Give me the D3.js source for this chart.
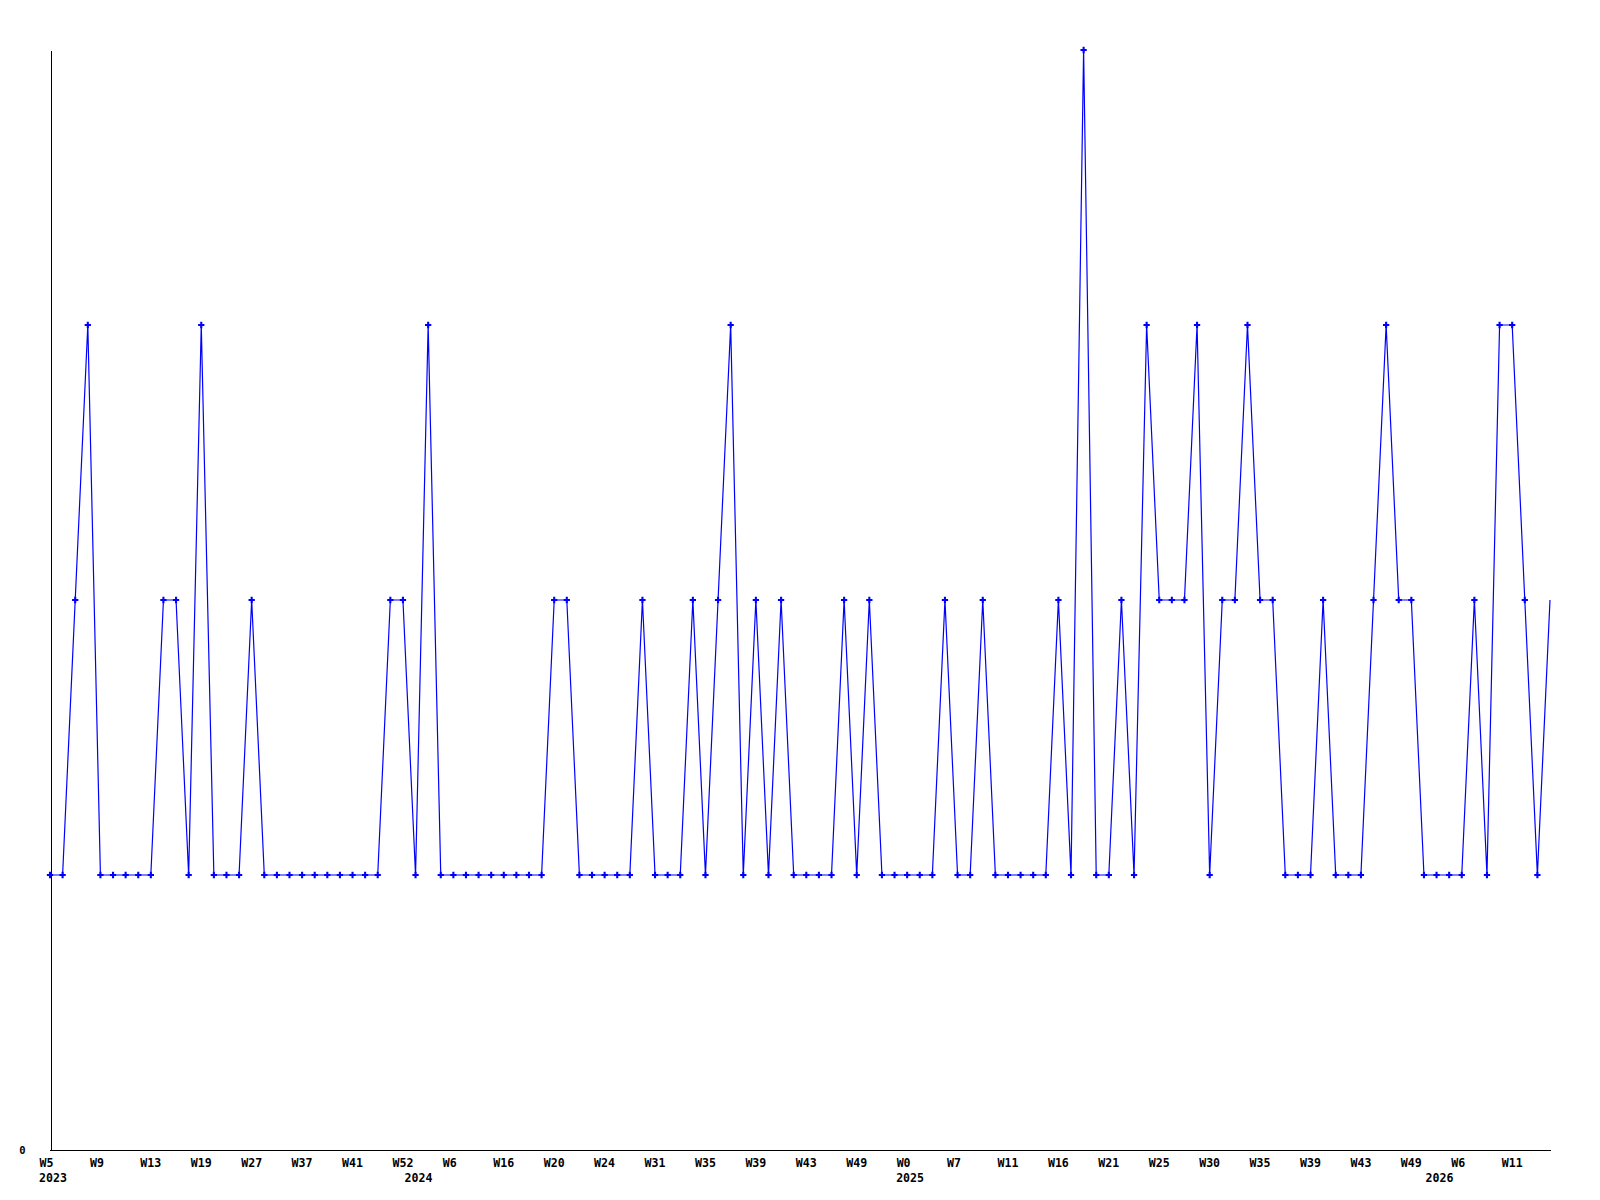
<!DOCTYPE html>
<html>
<head>
<meta charset="utf-8">
<script src="https://cdn.jsdelivr.net/npm/d3@7"></script>
<style>
  body { margin: 0; background: #fff; }
  text { font-family: "DejaVu Sans Mono", "Liberation Mono", monospace; font-weight: bold; fill: #000; }
</style>
</head>
<body>
<div id="chart"></div>
<script>
// weekly values, one per point (120 weeks)
const values = [
  1, 1, 2, 3, 1, 1, 1, 1, 1, 2,
  2, 1, 3, 1, 1, 1, 2, 1, 1, 1,
  1, 1, 1, 1, 1, 1, 1, 2, 2, 1,
  3, 1, 1, 1, 1, 1, 1, 1, 1, 1,
  2, 2, 1, 1, 1, 1, 1, 2, 1, 1,
  1, 2, 1, 2, 3, 1, 2, 1, 2, 1,
  1, 1, 1, 2, 1, 2, 1, 1, 1, 1,
  1, 2, 1, 1, 2, 1, 1, 1, 1, 1,
  2, 1, 4, 1, 1, 2, 1, 3, 2, 2,
  2, 3, 1, 2, 2, 3, 2, 2, 1, 1,
  1, 2, 1, 1, 1, 2, 3, 2, 2, 1,
  1, 1, 1, 2, 1, 3, 3, 2, 1, 2
];

// week labels shown on every 4th point
const labelStep = 4;
const weekLabels = ["W5", "W9", "W13", "W19", "W27", "W37", "W41", "W52", "W6", "W16",
  "W20", "W24", "W31", "W35", "W39", "W43", "W49", "W0", "W7", "W11",
  "W16", "W21", "W25", "W30", "W35", "W39", "W43", "W49", "W6", "W11"];

// first point of each year
const yearLabels = ["2023", "2024", "2025", "2026"];
const yearStart = [0, 29, 68, 110];

const yMax = 4;

const width = 1600, height = 1200;
const margin = { top: 50, right: 50, bottom: 50, left: 50 };

const svg = d3.select("#chart").append("svg")
  .attr("width", width)
  .attr("height", height);

svg.append("rect").attr("width", width).attr("height", height).attr("fill", "#fff");

const x = d3.scalePoint()
  .domain(d3.range(values.length))
  .range([margin.left, width - margin.right]);

const y = d3.scaleLinear()
  .domain([0, yMax])
  .range([height - margin.bottom, margin.top]);

// axes: plain lines, no tick marks
const xAxis = svg.append("g")
  .attr("transform", `translate(0,${height - margin.bottom + 0.5})`)
  .call(d3.axisBottom(x)
    .tickValues(d3.range(0, values.length, labelStep))
    .tickFormat(i => weekLabels[i / labelStep])
    .tickSize(0)
    .tickSizeOuter(0));
xAxis.select(".domain")
  .attr("d", `M${margin.left},0H${width - margin.right + 1}`)
  .attr("stroke", "#000")
  .attr("shape-rendering", "crispEdges");
xAxis.selectAll(".tick text")
  .attr("text-anchor", "start")
  .attr("x", -11)
  .attr("y", 16)
  .attr("dy", null)
  .attr("font-size", 11.6)
  .attr("font-family", null);

const yAxis = svg.append("g")
  .attr("transform", `translate(${margin.left + 0.5},0)`)
  .call(d3.axisLeft(y).tickValues([0]).tickFormat(d3.format("d")).tickSize(0).tickSizeOuter(0));
yAxis.select(".domain")
  .attr("stroke", "#000")
  .attr("shape-rendering", "crispEdges");
yAxis.selectAll(".tick text")
  .attr("text-anchor", "middle")
  .attr("x", -28)
  .attr("dy", "0.3em")
  .attr("font-size", 10.5)
  .attr("font-family", null);

// year labels under the first week of each year
svg.append("g")
  .selectAll("text")
  .data(yearLabels)
  .join("text")
    .attr("x", (d, i) => x(yearStart[i]) - 11)
    .attr("y", height - margin.bottom + 32)
    .attr("font-size", 11.6)
    .text(d => d);

// the series line
const line = d3.line()
  .x((d, i) => x(i))
  .y(d => y(d));

svg.append("path")
  .datum(values)
  .attr("fill", "none")
  .attr("stroke", "#0000ff")
  .attr("stroke-width", 1.2)
  .attr("d", line);

// small cross markers, none on the last point
svg.append("g")
  .selectAll("path")
  .data(values.slice(0, -1))
  .join("path")
    .attr("transform", (d, i) => `translate(${x(i)},${y(d)})`)
    .attr("d", d3.symbol(d3.symbolCross, 22))
    .attr("fill", "#0000ff");
</script>
</body>
</html>
